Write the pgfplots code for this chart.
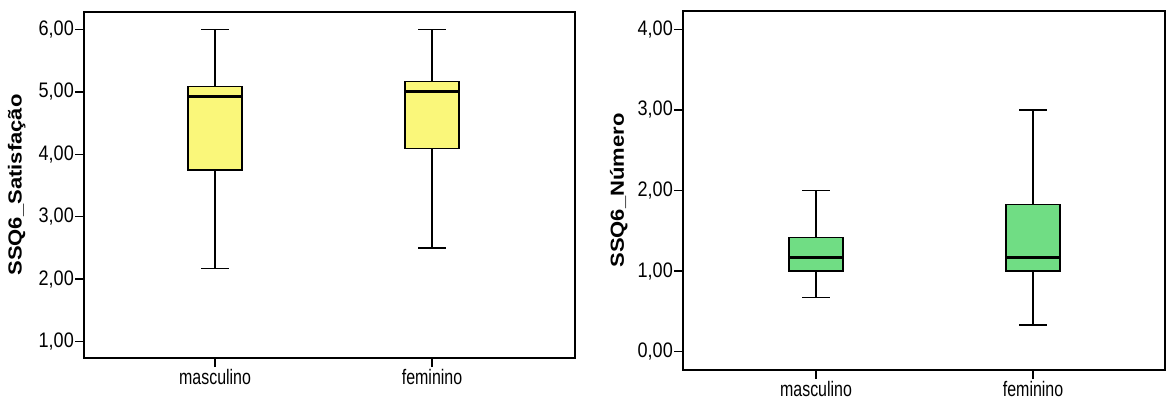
\documentclass[border=0pt]{standalone}
\usepackage{fontspec}
\setmainfont{Liberation Sans}
\newfontfamily\cond[FakeStretch=0.76]{Liberation Sans}
\newfontfamily\condb[FakeStretch=0.86]{Liberation Sans}
\usepackage{pgfplots}
\pgfplotsset{compat=1.18}
\usepgfplotslibrary{statistics}
\definecolor{byellow}{RGB}{250,247,122}
\definecolor{bgreen}{RGB}{112,221,132}
\pgfplotsset{
  spss/.style={
    scale only axis,
    anchor=south west,
    axis line style={line width=1.5pt, black},
    every tick/.style={line width=1.5pt, black},
    tick align=outside,
    major tick length=9pt,
    xtick={1,2},
    xticklabels={masculino,feminino},
    ytick pos=left, xtick pos=bottom,
    x tick label style={font=\fontsize{21}{24}\selectfont\cond, inner sep=2pt},
    y tick label style={font=\fontsize{21}{24}\selectfont\condb, inner sep=1pt},
    /pgf/number format/.cd, fixed, fixed zerofill, precision=2, use comma, assume math mode=true,
    /pgfplots/.cd,
    boxplot/draw direction=y,
    boxplot/box extend=0.25,
    boxplot/whisker extend=0.125,
    boxplot/every median/.style={line width=3.2pt},
    boxplot/every whisker/.style={line width=1.4pt},
    boxplot/every box/.style={line width=1.4pt},
    every axis y label/.style={rotate=90, anchor=center},
  }
}
\begin{document}
\begin{tikzpicture}[x=1pt,y=1pt]
\path[use as bounding box] (0,0) rectangle (1167,405);
\begin{axis}[spss,
  at={(84pt,47pt)}, width=491pt, height=346pt,
  xmin=0.396, xmax=2.659, ymin=0.736, ymax=6.28,
  ytick={1,2,3,4,5,6},
  ylabel={\scalebox{1}[0.86]{\bfseries\fontsize{22}{26}\selectfont SSQ6\_Satisfação}},
  ylabel style={at={(axis description cs:-0.137,0.5)}},
]
\addplot[fill=byellow, draw=black, line width=1.4pt, boxplot prepared={draw position=1,
  lower whisker=2.17, lower quartile=3.75, median=4.92, upper quartile=5.09, upper whisker=6}]
  coordinates {};
\addplot[fill=byellow, draw=black, line width=1.4pt, boxplot prepared={draw position=2,
  lower whisker=2.5, lower quartile=4.09, median=5.0, upper quartile=5.17, upper whisker=6}]
  coordinates {};
\end{axis}
\begin{axis}[spss,
  at={(683pt,35pt)}, width=482pt, height=359pt,
  xmin=0.387, xmax=2.608, ymin=-0.227, ymax=4.227,
  ytick={0,1,2,3,4},
  ylabel={\scalebox{1}[0.86]{\bfseries\fontsize{22}{26}\selectfont SSQ6\_Número}},
  ylabel style={at={(axis description cs:-0.133,0.5)}},
]
\addplot[fill=bgreen, draw=black, line width=1.4pt, boxplot prepared={draw position=1,
  lower whisker=0.67, lower quartile=1.0, median=1.17, upper quartile=1.42, upper whisker=2}]
  coordinates {};
\addplot[fill=bgreen, draw=black, line width=1.4pt, boxplot prepared={draw position=2,
  lower whisker=0.33, lower quartile=1.0, median=1.17, upper quartile=1.83, upper whisker=3}]
  coordinates {};
\end{axis}
\end{tikzpicture}
\end{document}
